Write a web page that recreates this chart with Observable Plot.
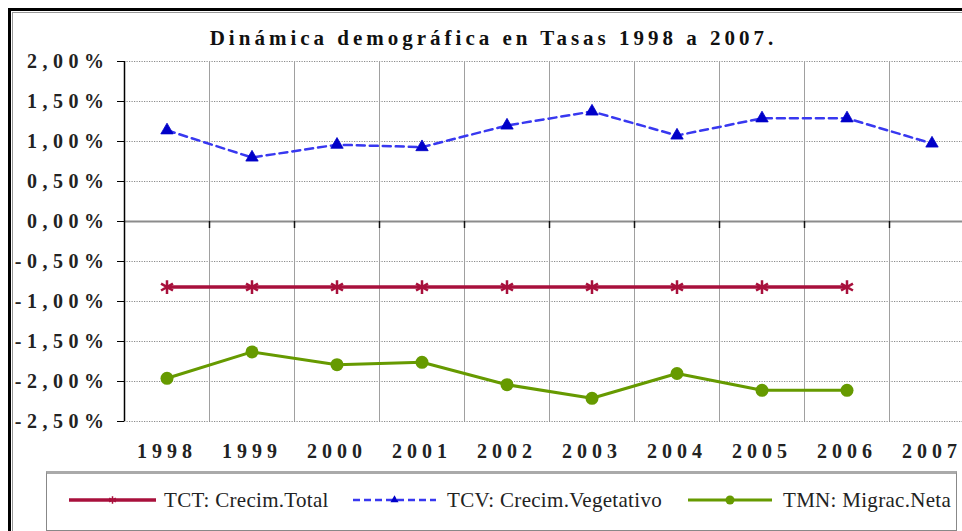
<!DOCTYPE html>
<html>
<head>
<meta charset="utf-8">
<script src="https://cdn.jsdelivr.net/npm/d3@7"></script>
<script src="https://cdn.jsdelivr.net/npm/@observablehq/plot@0.6"></script>
<style>
  html, body { margin: 0; padding: 0; background: #fff; }
  #wrap { position: relative; width: 962px; height: 531px; overflow: hidden; background: #fff; }
  #frame { position: absolute; left: 8px; top: 8px; width: 1000px; height: 600px;
           border-left: 3px solid #000; border-top: 3px solid #000; }
  #frame2 { position: absolute; left: 12px; top: 12px; width: 1000px; height: 600px;
           border-left: 1px solid #999; border-top: 1px solid #999; }
  .serif { font-family: "Liberation Serif", "Times New Roman", Tinos, "DejaVu Serif", serif !important; }
  #title { position: absolute; left: 0; top: 26px; width: 987px; text-align: center;
           font-weight: bold; font-size: 21px; letter-spacing: 4px; color: #111; white-space: nowrap; }
  #chart { position: absolute; left: 0; top: 0; }
  #chart svg { overflow: hidden; }
  .ch text { font-family: "Liberation Serif", "Times New Roman", Tinos, "DejaVu Serif", serif !important; }
  .ch g[aria-label="y-axis tick label"] text { letter-spacing: 5.5px; }
  .ch g[aria-label="x-axis tick label"] text { letter-spacing: 5px; }
  #legend { position: absolute; left: 46px; top: 471px; width: 909px; height: 56px;
            border: 1px solid #888; border-top: 3px solid #aaa; background: #fff; }
  #legend text { font-family: "Liberation Serif", "Times New Roman", Tinos, "DejaVu Serif", serif; letter-spacing: 0.3px; }
</style>
</head>
<body>
<div id="wrap">
  <div id="frame"></div>
  <div id="frame2"></div>
  <div id="chart"></div>
  <div id="title" class="serif">Dinámica demográfica en Tasas 1998 a 2007.</div>
  <div id="legend"></div>
</div>
<script>
// ---- data (percent) ----
const years = [1998, 1999, 2000, 2001, 2002, 2003, 2004, 2005, 2006, 2007];
const tct = [-0.82, -0.82, -0.82, -0.82, -0.82, -0.82, -0.82, -0.82, -0.82, null];
const tcv = [1.14, 0.80, 0.96, 0.93, 1.20, 1.375, 1.075, 1.29, 1.29, 0.975];
const tmn = [-1.96, -1.63, -1.79, -1.76, -2.04, -2.21, -1.90, -2.11, -2.11, null];
const yTicks = [2.0, 1.5, 1.0, 0.5, 0.0, -0.5, -1.0, -1.5, -2.0, -2.5];
const seriesNames = ["TCT: Crecim.Total", "TCV: Crecim.Vegetativo", "TMN: Migrac.Neta"];

const colTCT = "#A8103C", colTCVline = "#3838F0", colTCVmark = "#0000C8", colTMN = "#669A00";

const rows = (arr) => years.map((y, i) => ({year: y, v: arr[i]})).filter(d => d.v != null);
const dTCT = rows(tct), dTCV = rows(tcv), dTMN = rows(tmn);
const bounds = years.map(y => y + 0.5);
const fmt = d => d.toFixed(2).replace(".", ",") + "%";

const chart = Plot.plot({
  width: 962,
  height: 470,
  marginTop: 61,
  marginBottom: 49,
  marginLeft: 124,
  marginRight: 0,
  className: "ch",
  style: {background: "transparent"},
  x: {domain: [1997.5, 2007.5], range: [124, 974]},
  y: {domain: [-2.5, 2], range: [421, 61]},
  marks: [
    Plot.ruleY(yTicks.filter(t => t !== 0), {stroke: "#8a8a8a", strokeWidth: 1, strokeDasharray: "1.2,1.3"}),
    Plot.ruleX(bounds, {y1: -2.5, y2: 2, stroke: "#a0a0a0", strokeWidth: 1}),
    Plot.ruleY([0], {stroke: "#8c8c8c", strokeWidth: 2}),
    Plot.ruleX(bounds, {y1: 0, y2: -0.0875, stroke: "#111", strokeWidth: 1.5}),
    Plot.ruleX([1997.5], {y1: -2.5, y2: 2, stroke: "#000", strokeWidth: 1.5}),
    Plot.axisY({ticks: yTicks, tickFormat: fmt, tickSize: 7, tickPadding: 8, stroke: "#000",
                fontWeight: "bold", fontSize: 20, fill: "#222", label: null}),
    Plot.axisX({ticks: years, tickFormat: d => String(d), tickSize: 0, tickPadding: 22, dx: 0,
                fontWeight: "bold", fontSize: 20, fill: "#222", label: null}),
    Plot.line(dTCT, {x: "year", y: "v", stroke: colTCT, strokeWidth: 3.5}),
    Plot.dot(dTCT, {x: "year", y: "v", symbol: "asterisk", r: 6.5, stroke: colTCT, strokeWidth: 2.5}),
    Plot.line(dTCV, {x: "year", y: "v", stroke: colTCVline, strokeWidth: 2.5, strokeDasharray: "8,5"}),
    Plot.dot(dTCV, {x: "year", y: "v", symbol: "triangle", r: 4.6, fill: colTCVmark, stroke: colTCVmark, strokeWidth: 0.8}),
    Plot.line(dTMN, {x: "year", y: "v", stroke: colTMN, strokeWidth: 3}),
    Plot.dot(dTMN, {x: "year", y: "v", symbol: "circle", r: 6.5, fill: colTMN})
  ]
});
document.getElementById("chart").appendChild(chart);

// ---- legend ----
const leg = d3.select("#legend").append("svg").attr("width", 909).attr("height", 56);
const items = [
  {name: seriesNames[0], x1: 22, x2: 109, tx: 117, color: colTCT, dash: null, w: 3.5, sym: "asterisk"},
  {name: seriesNames[1], x1: 306, x2: 389, tx: 400, color: colTCVline, dash: "7,4", w: 2.5, sym: "triangle"},
  {name: seriesNames[2], x1: 641, x2: 725, tx: 736, color: colTMN, dash: null, w: 3, sym: "circle"}
];
const ly = 26;
items.forEach(it => {
  leg.append("line").attr("x1", it.x1).attr("x2", it.x2).attr("y1", ly).attr("y2", ly)
    .attr("stroke", it.color).attr("stroke-width", it.w).attr("stroke-dasharray", it.dash);
  const cx = (it.x1 + it.x2) / 2;
  if (it.sym === "asterisk") {
    leg.append("path").attr("transform", `translate(${cx},${ly})`)
      .attr("d", d3.symbol(d3.symbolAsterisk, 40)()).attr("stroke", it.color).attr("stroke-width", 1.5).attr("fill", "none");
  } else if (it.sym === "triangle") {
    leg.append("path").attr("transform", `translate(${cx},${ly})`)
      .attr("d", d3.symbol(d3.symbolTriangle, 28)()).attr("fill", colTCVmark);
  } else {
    leg.append("circle").attr("cx", cx).attr("cy", ly).attr("r", 4.5).attr("fill", it.color);
  }
  leg.append("text").attr("x", it.tx).attr("y", ly).attr("dy", "0.35em")
    .attr("font-size", 21).attr("fill", "#222")
    .text(it.name);
});
</script>
</body>
</html>
